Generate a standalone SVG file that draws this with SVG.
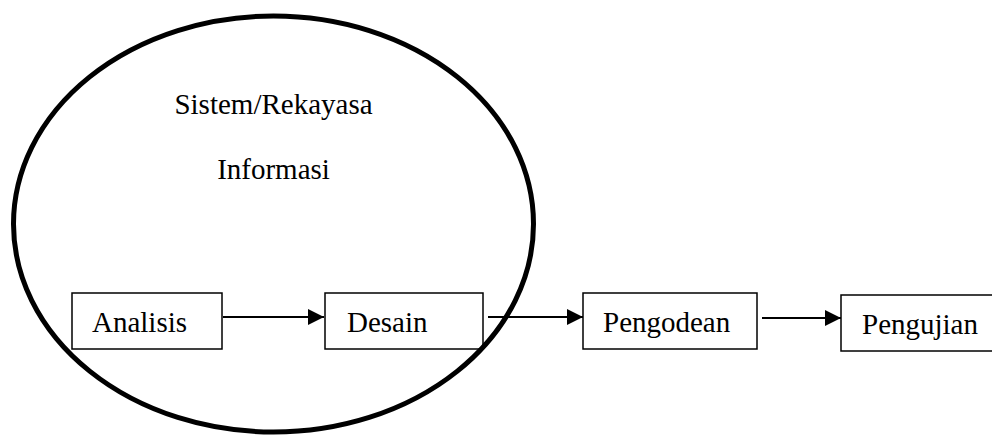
<svg xmlns="http://www.w3.org/2000/svg" width="992" height="435" viewBox="0 0 992 435">
  <style>
    .box { fill: #ffffff; stroke: #000000; stroke-width: 1.5; }
    .lbl { font-family: "Liberation Serif", "Times New Roman", serif; font-size: 29px; fill: #000000; }
    .conn { stroke: #000000; stroke-width: 2; fill: none; marker-end: url(#arrow); }
  </style>
  <defs>
    <marker id="arrow" markerWidth="16" markerHeight="16" viewBox="0 0 16 16" refX="16" refY="8" orient="auto" markerUnits="userSpaceOnUse">
      <path d="M0,0 L16,8 L0,16 Z" fill="#000000"/>
    </marker>
  </defs>
  <rect width="992" height="435" fill="#ffffff"/>

  <g id="node-analisis">
    <rect class="box" x="72" y="293" width="150" height="56"/>
    <text class="lbl" x="92" y="332">Analisis</text>
  </g>
  <g id="node-desain">
    <rect class="box" x="325" y="293" width="158" height="56"/>
    <text class="lbl" x="347" y="332">Desain</text>
  </g>
  <g id="node-pengodean">
    <rect class="box" x="583" y="293" width="174" height="56"/>
    <text class="lbl" x="603" y="332">Pengodean</text>
  </g>
  <g id="node-pengujian">
    <rect class="box" x="841" y="295" width="170" height="56"/>
    <text class="lbl" x="862" y="334">Pengujian</text>
  </g>

  <g id="connectors">
    <line class="conn" x1="223" y1="317" x2="324" y2="317"/>
    <line class="conn" x1="488" y1="317" x2="583" y2="317"/>
    <line class="conn" x1="762" y1="318" x2="841" y2="318"/>
  </g>

  <g id="node-sistem">
    <ellipse cx="273.5" cy="224" rx="260" ry="208" fill="none" stroke="#000000" stroke-width="5"/>
    <text class="lbl" x="273.5" y="114" text-anchor="middle">Sistem/Rekayasa</text>
    <text class="lbl" x="273.5" y="179" text-anchor="middle">Informasi</text>
  </g>
</svg>
